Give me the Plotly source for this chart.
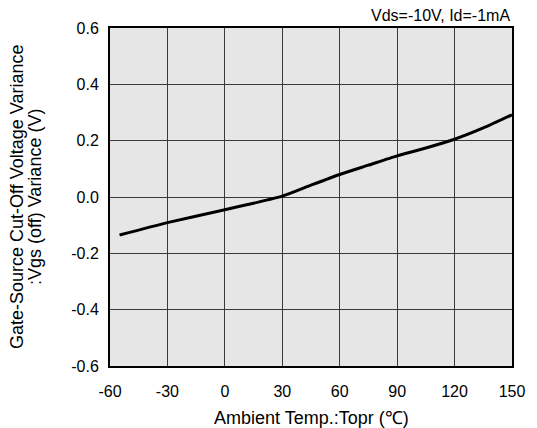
import plotly.graph_objects as go

temp = [-55, -30, 0, 15, 30, 45, 60, 75, 90, 105, 120, 135, 150]
vgs_var = [-0.135, -0.091, -0.045, -0.022, 0.003, 0.042, 0.08, 0.113, 0.146, 0.174, 0.205, 0.245, 0.292]

x_ticks = [-60, -30, 0, 30, 60, 90, 120, 150]
x_tick_labels = ["-60", "-30", "0", "30", "60", "90", "120", "150"]
y_ticks = [-0.6, -0.4, -0.2, 0.0, 0.2, 0.4, 0.6]
y_tick_labels = ["-0.6", "-0.4", "-0.2", "0.0", "0.2", "0.4", "0.6"]

x_title = "Ambient Temp.:Topr (℃)"
y_title_lines = ["Gate-Source Cut-Off Voltage Variance", ":Vgs (off) Variance (V)"]
condition = "Vds=-10V, Id=-1mA"

font = "Liberation Sans, Arial, sans-serif"

fig = go.Figure()
fig.add_trace(go.Scatter(x=temp, y=vgs_var, mode="lines",
                         line=dict(color="black", width=3, shape="spline", smoothing=0.6),
                         showlegend=False, hoverinfo="skip"))

annotations = [
    dict(text=condition, xref="paper", yref="paper", x=1, y=1,
         xanchor="right", yanchor="middle", yshift=13, showarrow=False,
         font=dict(size=16)),
    dict(text=x_title, xref="paper", yref="paper", x=0.5, y=0,
         xanchor="center", yanchor="middle", yshift=-52, showarrow=False,
         font=dict(size=18)),
]
for shift, line in zip([-93, -75], y_title_lines):
    annotations.append(dict(text=line, xref="paper", yref="paper", x=0, y=0.5,
                            xanchor="center", yanchor="middle", xshift=shift,
                            textangle=-90, showarrow=False, font=dict(size=18)))

fig.update_layout(
    width=529, height=420,
    margin=dict(l=102, r=25, t=20, b=62),
    paper_bgcolor="white",
    plot_bgcolor="#e6e6e6",
    font=dict(family=font, size=16, color="black"),
    xaxis=dict(range=[-60, 150], tickvals=x_ticks, ticktext=x_tick_labels,
               showgrid=True, gridcolor="#3a3a3a", gridwidth=1,
               showline=True, linecolor="black", linewidth=2, mirror=True,
               zeroline=False, ticks="", ticklabelstandoff=10, automargin=False),
    yaxis=dict(range=[-0.6, 0.6], tickvals=y_ticks, ticktext=y_tick_labels,
               showgrid=True, gridcolor="#3a3a3a", gridwidth=1,
               showline=True, linecolor="black", linewidth=2, mirror=True,
               zeroline=False, ticks="", ticklabelstandoff=6, automargin=False),
    annotations=annotations,
)

fig.write_html("out.html")
